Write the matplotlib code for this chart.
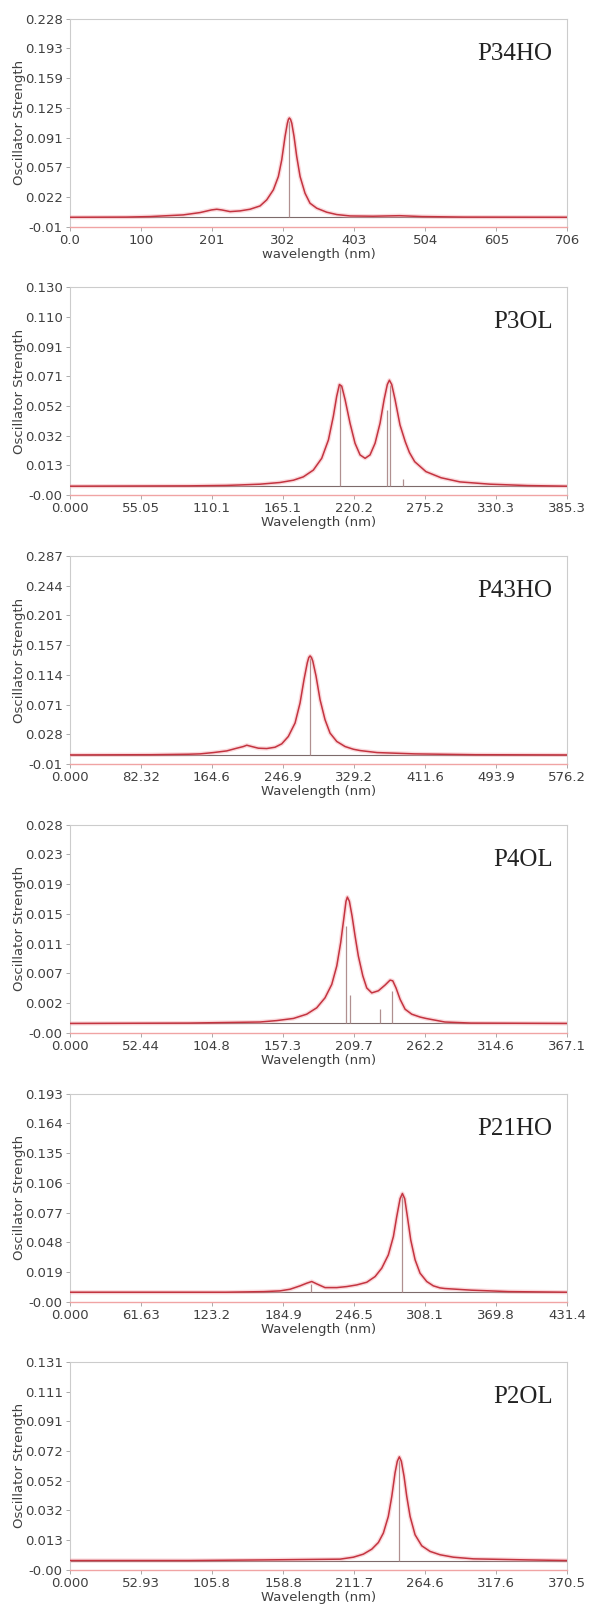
import numpy as np
import matplotlib
matplotlib.use("Agg")
from matplotlib import pyplot as plt

# ---- data (wavelength nm, oscillator strength) ----
names = ["P34HO", "P3OL", "P43HO", "P4OL", "P21HO", "P2OL"]
xlabels = ["wavelength (nm)"] + ["Wavelength (nm)"] * 5

p34ho_x = [0, 80, 114, 161, 185, 201, 208.6, 215.7, 227.4, 241.6, 255.8, 270, 279.5, 288.9, 296, 300.8,
           305.5, 308.8, 310.3, 311.6, 313.2, 315, 318.2, 322, 326.8, 333.8, 340.9, 350.4, 364.6, 378.8,
           397.7, 430, 468, 500, 560, 706]
p34ho_y = [0, 0.0002, 0.0008, 0.0027, 0.0054, 0.0084, 0.0092, 0.0084, 0.0065, 0.0073, 0.0092, 0.0130,
           0.0200, 0.0315, 0.0468, 0.066, 0.0929, 0.108, 0.1125, 0.114, 0.1125, 0.108, 0.0929, 0.0699,
           0.0468, 0.0276, 0.0161, 0.0104, 0.0058, 0.0031, 0.0015, 0.0012, 0.0018, 0.0008, 0.0002, 0]
p34ho_sx = [311.6]
p34ho_sy = [0.11]

p3ol_x = [0, 92, 121.2, 131.9, 147.3, 162.8, 173.2, 180.9, 188.6, 195.1, 200.3, 204.1, 206.7, 208.8,
          210.6, 213.2, 217.0, 220.9, 224.8, 228.7, 232.5, 236.4, 240.3, 243.4, 245.9, 247.5, 249.3,
          251.9, 255.7, 259.8, 263.0, 267.1, 275.8, 287.5, 302.1, 325.4, 354.6, 385.3]
p3ol_y = [0, 0.0002, 0.0005, 0.0008, 0.0013, 0.0024, 0.0039, 0.0061, 0.0105, 0.0182, 0.0302, 0.0456,
          0.0587, 0.0664, 0.0653, 0.0565, 0.0412, 0.0280, 0.0204, 0.0182, 0.0204, 0.0280, 0.0412,
          0.0565, 0.0664, 0.0692, 0.0664, 0.0565, 0.040, 0.029, 0.022, 0.016, 0.0095, 0.0055, 0.0028,
          0.0013, 0.0004, 0]
p3ol_sx = [208.9, 245.5, 247.8, 257.8]
p3ol_sy = [0.066, 0.05, 0.066, 0.005]

p43ho_x = [0, 93.9, 137.5, 150.9, 166.3, 181.8, 193.4, 201.0, 205.0, 210.8, 218.4, 228.1, 237.7, 245.5,
           253.1, 260.9, 266.7, 271.3, 275.1, 276.8, 278.3, 279.9, 281.4, 285.2, 289.8, 295.6, 301.4,
           309.2, 318.8, 328.4, 336.2, 355.9, 399.4, 470, 576.2]
p43ho_y = [0, 0.0003, 0.001, 0.0015, 0.0034, 0.0058, 0.0097, 0.0121, 0.0140, 0.0121, 0.0097, 0.0092,
           0.0111, 0.0160, 0.0266, 0.046, 0.075, 0.1089, 0.1331, 0.1405, 0.1428, 0.1405, 0.1355, 0.1137,
           0.0799, 0.0508, 0.0315, 0.0194, 0.0121, 0.0082, 0.0063, 0.0034, 0.0015, 0.0003, 0]
p43ho_sx = [278.3]
p43ho_sy = [0.14]

p4ol_x = [0, 87.6, 140.4, 152.7, 165.0, 174.8, 182.2, 188.3, 193.3, 197.0, 199.9, 202.4, 203.8, 204.8,
          206.3, 208.3, 210.5, 212.9, 216.2, 219.1, 222.8, 227.7, 232.6, 236.3, 238.3, 240.7, 243.7,
          247.4, 252.3, 258.4, 262.8, 276.7, 296, 367.1]
p4ol_y = [0, 0.00005, 0.0002, 0.0004, 0.0007, 0.0013, 0.0022, 0.0036, 0.0055, 0.0081, 0.0114, 0.0151,
          0.0172, 0.0178, 0.0172, 0.0151, 0.0123, 0.0095, 0.0067, 0.0050, 0.0043, 0.0046, 0.0054,
          0.0061, 0.0060, 0.0050, 0.0034, 0.0020, 0.0013, 0.0009, 0.0007, 0.0002, 0.00005, 0]
p4ol_sx = [203.8, 206.6, 228.9, 237.8]
p4ol_sy = [0.0137, 0.0040, 0.0021, 0.0045]

p21ho_x = [0, 135.5, 168.3, 182.3, 191.0, 199.7, 205.5, 209.8, 214.1, 221.3, 231.5, 240.2, 248.8, 257.5,
           264.7, 270.5, 276.2, 280.6, 283.5, 286.4, 288.4, 290.4, 292.7, 295.6, 299.4, 303.7, 309.5,
           315.2, 321.0, 325.2, 348.1, 380.8, 431.4]
p21ho_y = [0, 0, 0.0006, 0.0013, 0.0029, 0.0062, 0.0088, 0.0104, 0.0081, 0.0045, 0.0045, 0.0055, 0.0071,
           0.0097, 0.0152, 0.0234, 0.0363, 0.0542, 0.0736, 0.091, 0.096, 0.091, 0.0736, 0.0509, 0.0315,
           0.0185, 0.0104, 0.0062, 0.0042, 0.0036, 0.0020, 0.0006, 0]
p21ho_sx = [209.5, 288.4]
p21ho_sy = [0.008, 0.094]

p2ol_x = [0, 88.5, 144.6, 201.3, 211.2, 218.6, 224.9, 229.8, 233.5, 237.2, 239.8, 242.2, 243.9, 245.4,
          246.9, 248.9, 250.9, 253.4, 257.1, 262.1, 268.3, 275.7, 285.6, 300.5, 341, 370.5]
p2ol_y = [0, 0, 0.0004, 0.0009, 0.0022, 0.0042, 0.0075, 0.0119, 0.0181, 0.0291, 0.0424, 0.0578, 0.0655,
          0.0684, 0.0655, 0.0556, 0.0424, 0.0291, 0.0170, 0.0097, 0.0060, 0.0038, 0.0022, 0.0011,
          0.0004, 0]
p2ol_sx = [245.4]
p2ol_sy = [0.066]

# axis ranges and tick labels as printed on the chart
xmax = [706, 385.3, 576.2, 367.1, 431.4, 370.5]
ylims = [(-0.0108, 0.228), (-0.0058, 0.130), (-0.0130, 0.287),
         (-0.0013, 0.028), (-0.0092, 0.193), (-0.0062, 0.131)]
xtick_labels = [
    ['0.0', '100', '201', '302', '403', '504', '605', '706'],
    ['0.000', '55.05', '110.1', '165.1', '220.2', '275.2', '330.3', '385.3'],
    ['0.000', '82.32', '164.6', '246.9', '329.2', '411.6', '493.9', '576.2'],
    ['0.000', '52.44', '104.8', '157.3', '209.7', '262.2', '314.6', '367.1'],
    ['0.000', '61.63', '123.2', '184.9', '246.5', '308.1', '369.8', '431.4'],
    ['0.000', '52.93', '105.8', '158.8', '211.7', '264.6', '317.6', '370.5'],
]
ytick_labels = [
    ['-0.01', '0.022', '0.057', '0.091', '0.125', '0.159', '0.193', '0.228'],
    ['-0.00', '0.013', '0.032', '0.052', '0.071', '0.091', '0.110', '0.130'],
    ['-0.01', '0.028', '0.071', '0.114', '0.157', '0.201', '0.244', '0.287'],
    ['-0.00', '0.002', '0.007', '0.011', '0.015', '0.019', '0.023', '0.028'],
    ['-0.00', '0.019', '0.048', '0.077', '0.106', '0.135', '0.164', '0.193'],
    ['-0.00', '0.013', '0.032', '0.052', '0.072', '0.091', '0.111', '0.131'],
]

curves = [(p34ho_x, p34ho_y), (p3ol_x, p3ol_y), (p43ho_x, p43ho_y),
          (p4ol_x, p4ol_y), (p21ho_x, p21ho_y), (p2ol_x, p2ol_y)]
sticks = [(p34ho_sx, p34ho_sy), (p3ol_sx, p3ol_sy), (p43ho_sx, p43ho_sy),
          (p4ol_sx, p4ol_sy), (p21ho_sx, p21ho_sy), (p2ol_sx, p2ol_sy)]

plt.rcParams['font.family'] = ['DejaVu Sans']
fig = plt.figure(figsize=(5.91, 16.11), dpi=100)

bottoms = [0.8593, 0.6927, 0.5258, 0.3590, 0.1920, 0.0255]
for i in range(6):
    ax = fig.add_axes([0.118, bottoms[i], 0.842, 0.1291])
    cx, cy = curves[i]
    sx, sy = sticks[i]
    ax.axhline(0, color='#7d6b6b', lw=0.8, zorder=1)
    ax.vlines(sx, 0, sy, color='#b09090', lw=0.9, zorder=2)
    ax.plot(cx, cy, color='#f4a0a8', lw=3.0, alpha=0.4, zorder=3)
    ax.plot(cx, cy, color='#c43440', lw=1.1, zorder=4)

    ax.set_xlim(0, xmax[i])
    ax.set_ylim(*ylims[i])
    ax.set_xticks(np.linspace(0, xmax[i], 8))
    ax.set_xticklabels(xtick_labels[i])
    ax.set_yticks(np.linspace(ylims[i][0], ylims[i][1], 8))
    ax.set_yticklabels(ytick_labels[i])
    ax.tick_params(labelsize=9.5, labelcolor='#404040', color='#aaaaaa', length=3, width=0.7, pad=2)

    for s in ['top', 'right', 'left']:
        ax.spines[s].set_color('#cccccc')
        ax.spines[s].set_linewidth(0.8)
    ax.spines['bottom'].set_color('#f0a4a4')
    ax.spines['bottom'].set_linewidth(1.0)

    ax.set_xlabel(xlabels[i], fontsize=9.5, color='#404040', labelpad=1)
    ax.set_ylabel('Oscillator Strength', fontsize=9.5, color='#404040')
    ax.yaxis.set_label_coords(-0.088, 0.5)
    ax.text(0.97, 0.83, names[i], transform=ax.transAxes, ha='right', va='center',
            fontsize=18, family='Liberation Serif', color='#222222')

plt.savefig('out.png', dpi=100)
